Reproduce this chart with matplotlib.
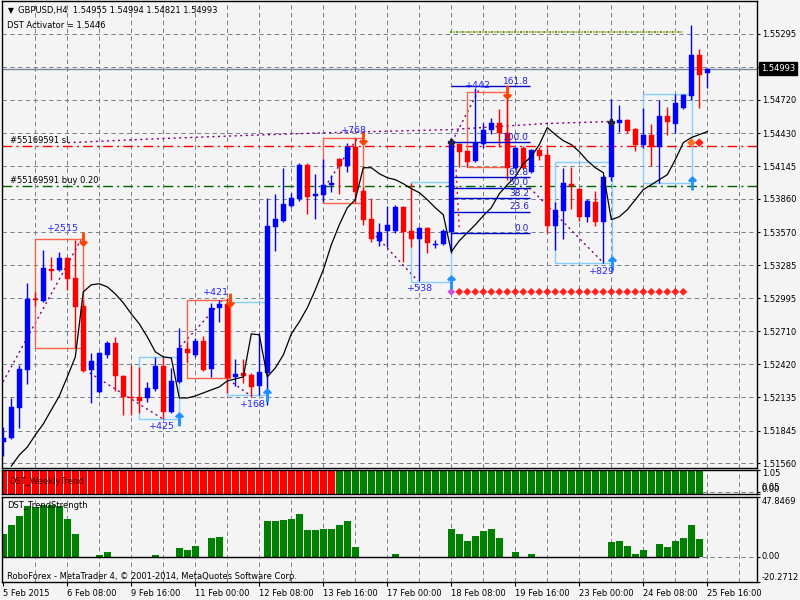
import numpy as np
import matplotlib.pyplot as plt
from matplotlib.patches import Rectangle
from matplotlib.transforms import blended_transform_factory

# ---- GBPUSD H4 candles (5 Feb - 25 Feb 2015) ----
opens = [1.51746, 1.51781, 1.52042, 1.52373, 1.52991, 1.52974, 1.53252, 1.53243, 1.53348, 1.53174,
         1.52930, 1.52373, 1.52181, 1.52503, 1.52608, 1.52321, 1.52138, 1.52138, 1.52129, 1.52207,
         1.52408, 1.52007, 1.52268, 1.52556, 1.52503, 1.52625, 1.52382, 1.52913, 1.52947, 1.52312,
         1.52347, 1.52329, 1.52234, 1.52347, 1.53618, 1.53670, 1.53801, 1.53862, 1.54158, 1.53888,
         1.53896, 1.53983, 1.54210, 1.54149, 1.54314, 1.53931, 1.53687, 1.53496, 1.53583, 1.53583,
         1.53792, 1.53583, 1.53513, 1.53609, 1.53461, 1.53470, 1.53574, 1.54340, 1.54279, 1.54192,
         1.54340, 1.54462, 1.54523, 1.54436, 1.54131, 1.54306, 1.54097, 1.54288, 1.54245, 1.53626,
         1.53757, 1.53992, 1.53949, 1.53705, 1.53835, 1.53661, 1.54053, 1.54523, 1.54549, 1.54471,
         1.54332, 1.54419, 1.54314, 1.54584, 1.54515, 1.54654, 1.54758, 1.55107, 1.54955]
highs = [1.51877, 1.52129, 1.52416, 1.53130, 1.53052, 1.53418, 1.53357, 1.53400, 1.53357, 1.53505,
         1.52982, 1.52521, 1.52530, 1.52625, 1.52660, 1.52329, 1.52416, 1.52399, 1.52268, 1.52486,
         1.52486, 1.52390, 1.52738, 1.52617, 1.52651, 1.52669, 1.52956, 1.52982, 1.53000, 1.52469,
         1.52469, 1.52347, 1.52695, 1.53870, 1.53905, 1.54131, 1.53914, 1.54175, 1.54175, 1.54079,
         1.54210, 1.54070, 1.54219, 1.54349, 1.54393, 1.53966, 1.53870, 1.53653, 1.53801, 1.53809,
         1.53801, 1.54001, 1.53618, 1.53618, 1.53505, 1.53600, 1.54393, 1.54349, 1.54288, 1.54828,
         1.54523, 1.54567, 1.54645, 1.54793, 1.54314, 1.54323, 1.54297, 1.54314, 1.54306, 1.53835,
         1.54131, 1.54140, 1.53957, 1.53862, 1.53931, 1.54062, 1.54732, 1.54680, 1.54558, 1.54480,
         1.54654, 1.54515, 1.54723, 1.54663, 1.54776, 1.54776, 1.55368, 1.55167, 1.54994]
lows = [1.51624, 1.51772, 1.51868, 1.52251, 1.52930, 1.52965, 1.53156, 1.53235, 1.53069, 1.52564,
        1.52355, 1.52086, 1.52173, 1.52477, 1.52190, 1.51981, 1.51981, 1.51998, 1.52094, 1.52190,
        1.51946, 1.51998, 1.52260, 1.52442, 1.52486, 1.52364, 1.52312, 1.52791, 1.52173, 1.52234,
        1.52260, 1.52138, 1.52155, 1.52068, 1.53409, 1.53661, 1.53792, 1.53844, 1.53731, 1.53687,
        1.53835, 1.53922, 1.53905, 1.54097, 1.53827, 1.53635, 1.53487, 1.53452, 1.53444, 1.53566,
        1.53313, 1.53444, 1.53148, 1.53391, 1.53435, 1.53461, 1.53391, 1.54140, 1.54140, 1.54184,
        1.54306, 1.54427, 1.54314, 1.54027, 1.54123, 1.54123, 1.54088, 1.54201, 1.53566, 1.53418,
        1.53513, 1.53774, 1.53670, 1.53661, 1.53626, 1.53304, 1.54018, 1.54445, 1.54436, 1.54279,
        1.54306, 1.54149, 1.54001, 1.54419, 1.54436, 1.54645, 1.54723, 1.54654, 1.54821]
closes = [1.51781, 1.52051, 1.52382, 1.52991, 1.52982, 1.53261, 1.53235, 1.53348, 1.53165, 1.52921,
          1.52364, 1.52451, 1.52521, 1.52608, 1.52321, 1.52138, 1.52129, 1.52103, 1.52216, 1.52408,
          1.52007, 1.52277, 1.52564, 1.52521, 1.52625, 1.52373, 1.52913, 1.52947, 1.52303, 1.52338,
          1.52321, 1.52225, 1.52355, 1.53626, 1.53687, 1.53818, 1.53870, 1.54158, 1.53879, 1.53905,
          1.53983, 1.54001, 1.54149, 1.54314, 1.53922, 1.53679, 1.53513, 1.53574, 1.53635, 1.53792,
          1.53574, 1.53513, 1.53609, 1.53478, 1.53470, 1.53583, 1.54349, 1.54271, 1.54184, 1.54349,
          1.54462, 1.54523, 1.54436, 1.54131, 1.54306, 1.54131, 1.54288, 1.54236, 1.53626, 1.53766,
          1.54001, 1.53975, 1.53705, 1.53844, 1.53661, 1.54053, 1.54532, 1.54549, 1.54454, 1.54332,
          1.54419, 1.54314, 1.54584, 1.54532, 1.54697, 1.54767, 1.55107, 1.54941, 1.54993]

# DST Activator line
activator = [np.nan, 1.51537, 1.51633, 1.51702, 1.51807, 1.51903, 1.52025, 1.52146, 1.52312, 1.52486,
             1.53052, 1.53113, 1.53122, 1.53095, 1.53034, 1.52956, 1.52860, 1.52773, 1.52660, 1.52530,
             1.52486, 1.52477, 1.52129, 1.52129, 1.52146, 1.52173, 1.52199, 1.52225, 1.52277, 1.52294,
             1.52312, 1.52686, 1.52678, 1.52312, 1.52390, 1.52503, 1.52686, 1.52791, 1.52913, 1.53069,
             1.53243, 1.53461, 1.53635, 1.53783, 1.53853, 1.54131, 1.54131, 1.54079, 1.54044, 1.54027,
             1.53992, 1.53949, 1.53914, 1.53853, 1.53783, 1.53722, 1.53400, 1.53496, 1.53566, 1.53635,
             1.53714, 1.53783, 1.53905, 1.53983, 1.54053, 1.54166, 1.54227, 1.54332, 1.54480, 1.54419,
             1.54366, 1.54332, 1.54271, 1.54192, 1.54131, 1.54088, 1.53679, 1.53705, 1.53766, 1.53853,
             1.53940, 1.53983, 1.54027, 1.54070, 1.54201, 1.54349, 1.54393, 1.54419, 1.54445]

# DST_WeeklyTrend (-1 down / +1 up)
weekly_trend = [-1, -1, -1, -1, -1, -1, -1, -1, -1, -1, -1, -1, -1, -1, -1, -1, -1, -1, -1, -1,
                -1, -1, -1, -1, -1, -1, -1, -1, -1, -1, -1, -1, -1, -1, -1, -1, -1, -1, -1, -1,
                -1, -1, 1, 1, 1, 1, 1, 1, 1, 1, 1, 1, 1, 1, 1, 1, 1, 1, 1, 1,
                1, 1, 1, 1, 1, 1, 1, 1, 1, 1, 1, 1, 1, 1, 1, 1, 1, 1, 1, 1,
                1, 1, 1, 1, 1, 1, 1, 1]

# DST_TrendStrength
strength = [18.1, 25.4, 32.1, 40.6, 39.5, 41.0, 41.0, 40.6, 30.3, 18.1,
            0, 0, 1.0, 3.5, 0, 0, 0, 0, 0, 1.0,
            0, 0, 6.7, 5.4, 8.4, 0, 14.8, 15.7, 0, 0,
            0, 0, 0, 28.1, 28.1, 29.5, 30.3, 34.3, 21.3, 20.8,
            22.1, 22.1, 25.4, 28.6, 7.5, 0, 0, 0, 0, 1.9,
            0, 0, 0, 0, 0, 0, 21.6, 18.1, 12.7, 16.7,
            20.0, 21.6, 14.8, 0, 3.5, 0, 1.9, 0, 0, 0,
            0, 0, 0, 0, 0, 0, 11.8, 12.7, 8.1, 1.9,
            5.4, 0, 10.0, 7.8, 12.7, 14.8, 24.8, 14.0]

time_labels = ["5 Feb 2015", "6 Feb 08:00", "9 Feb 16:00", "11 Feb 00:00", "12 Feb 08:00",
               "13 Feb 16:00", "17 Feb 00:00", "18 Feb 08:00", "19 Feb 16:00", "23 Feb 00:00",
               "24 Feb 08:00", "25 Feb 16:00"]
price_ticks = [1.55295, 1.55005, 1.54720, 1.54430, 1.54145, 1.53860, 1.53570, 1.53285,
               1.52995, 1.52710, 1.52420, 1.52135, 1.51845, 1.51560]

bid = 1.54993
sl_price = 1.54317
buy_price = 1.53969
tp_price = 1.55309
tp_bars = (55.8, 85)
signal_price = 1.53052
signal_bars = list(range(56, 86))
exit_signal_bars = [86, 87]
exit_signal_price = 1.54349

# trade boxes: bar from, bar to, low, high, kind, profit text, text bar, text price
boxes = [
    (4, 10, 1.52564, 1.53513, "sell", "+2515", 7.5, 1.53600),
    (17, 22, 1.51946, 1.52486, "buy", "+425", 19.8, 1.51885),
    (23, 28.3, 1.52303, 1.52982, "sell", "+421", 26.6, 1.53043),
    (28, 33, 1.52155, 1.52965, "buy", "+168", 31.2, 1.52068),
    (40, 45, 1.53827, 1.54393, "sell", "+768", 43.8, 1.54454),
    (51, 56, 1.53139, 1.54010, "buy", "+538", 52.1, 1.53078),
    (58, 63, 1.54140, 1.54793, "sell", "+442", 59.3, 1.54845),
    (69, 76.1, 1.53304, 1.54184, "buy", "+829", 74.8, 1.53226),
    (80, 86.1, 1.54001, 1.54776, "buy", "", 0, 0),
]
# dotted swing lines (bar0, price0, bar1, price1)
swings = [
    (-0.04, 1.52268, 9.84, 1.53522),
    (10.8, 1.52347, 19.96, 1.51946),
    (22.1, 1.52573, 27.7, 1.53000),
    (28.7, 1.52260, 30.8, 1.52155),
    (39.8, 1.53922, 44.3, 1.54393),
    (46.1, 1.53574, 51.8, 1.53148),
    (56.1, 1.54358, 59.6, 1.54828),
    (65.8, 1.53957, 75.0, 1.53304),
]
trade_line_bars = [8.1, 19.6, 29.6, 40.8, 55.8, 67.7, 75.6]
trade_line_prices = [1.54349, 1.54384, 1.54410, 1.54436, 1.54462, 1.54515, 1.54532]

fib_levels = [0.0, 23.6, 38.2, 50.0, 61.8, 100.0, 161.8]
fib_low, fib_high = 1.53563, 1.54352
fib_bars = (56, 65.8)

W, H = 800, 600
BG = '#f4f4f4'
GRID = '#76808c'
GRID_LS = (0, (4.5, 3.5))
BULL, BEAR = '#0000ff', '#ff0000'
FS = 6.0

plt.rcParams['font.family'] = ['DejaVu Sans']
plt.rcParams['font.size'] = FS


def frame(x0, y0, x1, y1):
    return [x0 / W, 1 - y1 / H, (x1 - x0) / W, (y1 - y0) / H]


def style(a):
    a.set_facecolor(BG)
    for s in a.spines.values():
        s.set_color('black')
        s.set_linewidth(1)
    a.set_xlim((2 - 3.3) / 8, (757 - 3.3) / 8)
    a.yaxis.tick_right()
    a.tick_params(axis='y', direction='out', length=2.5, pad=1, labelsize=FS, colors='black')
    for gx in range(4, 93, 4):
        a.axvline(gx, color=GRID, lw=0.7, ls=GRID_LS, zorder=0)


fig = plt.figure(figsize=(8, 6), dpi=100, facecolor=BG)

# ---------------- main price window ----------------
ax = fig.add_axes(frame(2, 0.5, 757, 468))
style(ax)
ax.set_ylim(1.51520, 1.55585)
ax.set_xticks([])
ax.set_yticks(price_ticks)
ax.set_yticklabels(['' if t == 1.55005 else '%.5f' % t for t in price_ticks])
for t in price_ticks:
    ax.axhline(t, color=GRID, lw=0.7, ls=GRID_LS, zorder=0)

o = np.array(opens); h = np.array(highs); l = np.array(lows); c = np.array(closes)
idx = np.arange(len(o))
cols = np.where(c >= o, BULL, BEAR)
ax.vlines(idx, l, h, colors=cols, lw=1, zorder=4)
ax.bar(idx, np.maximum(np.abs(c - o), 0.00008), bottom=np.minimum(o, c), width=0.6,
       color=cols, edgecolor=cols, lw=0.3, zorder=5)
ax.plot(idx, activator, color='black', lw=0.9, zorder=6)

# order / price lines
ax.axhline(bid, color='#778899', lw=1, zorder=2)
ax.axhline(sl_price, color='#ff0000', lw=1, ls=(0, (7, 3, 1.5, 3)), zorder=2)
ax.axhline(buy_price, color='#006400', lw=1, ls=(0, (7, 3, 1.5, 3)), zorder=2)
ax.text(0.84, sl_price + 0.00012, '#55169591 sl', va='bottom', ha='left', fontsize=FS, zorder=8)
ax.text(0.84, buy_price + 0.00012, '#55169591 buy 0.20', va='bottom', ha='left', fontsize=FS, zorder=8)
ax.plot(tp_bars, [tp_price, tp_price], color='#3c9a3c', lw=1.4, ls=(0, (1, 2)), zorder=3)
ax.plot(tp_bars, [tp_price, tp_price], color='#d4b020', lw=1.4, ls=(1.5, (1, 2)), zorder=3)

ax.plot(trade_line_bars, trade_line_prices, color='#800080', lw=1, ls=(0, (1.5, 2.5)), zorder=3)
for b0, p0, b1, p1 in swings:
    ax.plot([b0, b1], [p0, p1], color='#800080', lw=1, ls=(0, (1.5, 2.5)), zorder=3)
ax.plot([56.6, 57.0], [1.54114, 1.53592], color='#ff0000', lw=1, ls=(0, (1.5, 2.5)), zorder=3)

for b0, b1, lo, hi, kind, txt, tb, tp in boxes:
    ec = '#ff6347' if kind == 'sell' else '#87cefa'
    ax.add_patch(Rectangle((b0, lo), b1 - b0, hi - lo, fill=False, edgecolor=ec, lw=1, zorder=3))
    if kind == 'sell':
        ax.plot(b1, hi, ls='none', marker=r'$\downarrow$', ms=9, color='#ff4500', zorder=9)
    else:
        ax.plot(b1, lo, ls='none', marker=r'$\uparrow$', ms=9, color='#1e90ff', zorder=9)
    if txt:
        ax.text(tb, tp, txt, color='#2626ff', ha='center', va='center', fontsize=6.8, zorder=9)

ax.plot([56, 76], [1.54358, 1.54532], ls='none', marker='P', ms=5, color='#22224a', zorder=9)

sig_cols = ['#cc55dd'] + ['#ff2020'] * (len(signal_bars) - 1)
ax.scatter(signal_bars, [signal_price] * len(signal_bars), marker='D', s=9, c=sig_cols, zorder=7)
ax.scatter(exit_signal_bars, [exit_signal_price] * 2, marker='D', s=12,
           c=['#ff7020', '#ff2020'], zorder=7)

for lvl in fib_levels:
    fp = fib_low + (fib_high - fib_low) * lvl / 100.0
    ax.hlines(fp, fib_bars[0], fib_bars[1], color='#0000cd', lw=1, zorder=6)
    ax.text(fib_bars[1] - 0.1, fp + 0.00003, '%.1f' % lvl, color='#2020c0', ha='right',
            va='bottom', fontsize=6.5, zorder=9)

bt = blended_transform_factory(ax.transAxes, ax.transData)
ax.text(1.0 + 4 / 755, bid, '%.5f' % bid, transform=bt, color='white', ha='left', va='center',
        fontsize=FS, clip_on=False, zorder=20,
        bbox=dict(facecolor='black', edgecolor='black', pad=1.2))

# ---------------- DST_WeeklyTrend ----------------
ax2 = fig.add_axes(frame(2, 469.5, 757, 493.5))
style(ax2)
wt = np.array(weekly_trend)
ax2.bar(np.arange(len(wt)), np.abs(wt), width=0.875,
        color=np.where(wt > 0, '#008000', '#ff0000'), zorder=2)
ax2.set_ylim(0, 1.05)
ax2.set_xticks([])
ax2.set_yticks([1.05, 0.05, 0.0])
ax2.set_yticklabels(['1.05', '0.05', '0.00'])
for lab, va in zip(ax2.get_yticklabels(), ['top', 'bottom', 'bottom']):
    lab.set_va(va)
ax2.axhline(0.05, color=GRID, lw=0.7, ls=GRID_LS, zorder=0)
ax2.text(0.01, 0.5, 'DST_WeeklyTrend', transform=ax2.transAxes, color='#300000',
         va='center', ha='left', fontsize=FS, zorder=5)

# ---------------- DST_TrendStrength ----------------
ax3 = fig.add_axes(frame(2, 496.5, 757, 582))
style(ax3)
ax3.bar(np.arange(len(strength)), strength, width=0.875, color='#008000', zorder=2)
ax3.axhline(0, color=GRID, lw=0.7, ls=GRID_LS, zorder=0)
ax3.hlines(0, 0, len(strength) - 1, color='black', lw=1, zorder=3)
ax3.set_ylim(-20.2712, 47.8469)
ax3.set_yticks([47.8469, 0.0, -20.2712])
ax3.set_yticklabels(['47.8469', '0.00', '-20.2712'])
for lab, va in zip(ax3.get_yticklabels(), ['top', 'center', 'bottom']):
    lab.set_va(va)
ax3.set_xticks(np.arange(0, 8 * len(time_labels), 8))
ax3.set_xticklabels(time_labels)
ax3.tick_params(axis='x', direction='out', length=3, pad=2, labelsize=FS)
for lab in ax3.get_xticklabels():
    lab.set_ha('left')
ax3.text(0.007, 0.9, 'DST_TrendStrength', transform=ax3.transAxes, va='center', ha='left',
         fontsize=FS, zorder=5)
ax3.text(0.007, 0.07, 'RoboForex - MetaTrader 4, \u00a9 2001-2014, MetaQuotes Software Corp.',
         transform=ax3.transAxes, va='center', ha='left', fontsize=FS, zorder=5)

# header
fig.text(8 / W, 1 - 11 / H, '\u25bc', fontsize=5.5, va='center', ha='left')
fig.text(18 / W, 1 - 11 / H, 'GBPUSD,H4  1.54955 1.54994 1.54821 1.54993', fontsize=FS,
         va='center', ha='left')
fig.text(7 / W, 1 - 25 / H, 'DST Activator = 1.5446', fontsize=FS, va='center', ha='left')

fig.savefig('out.png', dpi=100, facecolor=BG)
